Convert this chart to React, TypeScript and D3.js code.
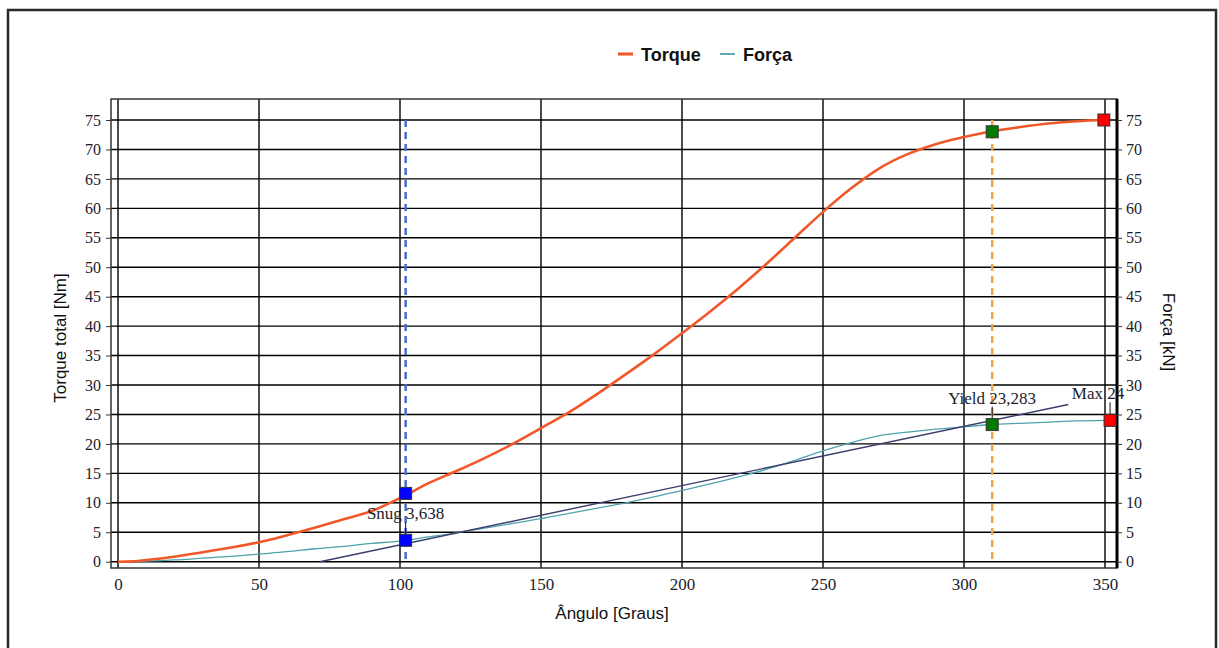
import React, { useRef, useEffect } from "react";
import * as d3 from "d3";

// Torque curve (angle in degrees, torque in Nm)
const torqueAngle = [0, 5, 10, 20, 30, 40, 50, 60, 70, 80, 90, 100, 110, 120, 130, 140, 150, 160, 170, 180, 190, 200, 210, 220, 230, 240, 250, 260, 270, 280, 290, 300, 310, 320, 330, 340, 350];
const torqueValues = [0, 0.05, 0.3, 0.85, 1.6, 2.4, 3.3, 4.5, 5.8, 7.2, 8.6, 10.8, 13.3, 15.4, 17.6, 20.0, 22.7, 25.4, 28.5, 31.8, 35.2, 38.8, 42.5, 46.4, 50.6, 55.0, 59.4, 63.4, 66.8, 69.2, 70.9, 72.1, 73.1, 73.8, 74.4, 74.8, 75.0];

// Força curve (angle in degrees, force in kN)
const forceAngle = [0, 10, 20, 30, 40, 50, 60, 70, 80, 90, 100, 110, 120, 130, 140, 150, 160, 170, 180, 190, 200, 210, 220, 230, 240, 250, 260, 270, 280, 290, 300, 310, 320, 330, 340, 350];
const forceValues = [0, 0.1, 0.3, 0.6, 0.9, 1.3, 1.7, 2.2, 2.6, 3.1, 3.5, 4.2, 4.9, 5.7, 6.5, 7.3, 8.2, 9.1, 10.0, 11.0, 12.1, 13.2, 14.4, 15.7, 17.2, 18.8, 20.2, 21.4, 22.0, 22.5, 22.9, 23.3, 23.5, 23.7, 23.9, 24.0];

// elastic (tangent) line
const elasticAngle = [71.6, 337];
const elasticForce = [0, 26.7];

// events: Snug / Yield / Max
const eventLabels = ["Snug 3,638", "Yield 23,283", "Max 24"];
const eventColors = ["#0000ff", "#007a00", "#ff0000"];
const eventTorqueAngle = [102, 310, 349.6];
const eventTorque = [11.6, 73.0, 75.0];
const eventForceAngle = [102, 310, 351.8];
const eventForce = [3.638, 23.283, 24.0];
const eventLineColors = ["#4a6cc8", "#f7a04a", null];
const eventLabelShift = [0, 0, -12];

const xTicks = [0, 50, 100, 150, 200, 250, 300, 350];
const yTicks = [0, 5, 10, 15, 20, 25, 30, 35, 40, 45, 50, 55, 60, 65, 70, 75];

const W = 1219;
const H = 648;

const TorqueChart = () => {
  const svgRef = useRef(null);

  useEffect(() => {
    document.body.style.margin = "0";
    const svg = d3.select(svgRef.current);
    svg.selectAll("*").remove();

    const plot = { left: 111, right: 1117, top: 99, bottom: 568 };

    const x = d3.scaleLinear().domain([0, 350]).range([118, 1105]);
    const y = d3.scaleLinear().domain([0, 75]).range([561.7, 120]);
    const y2 = d3.scaleLinear().domain([0, 75]).range([561.7, 120]);

    const serif = "'Liberation Serif', 'Times New Roman', serif";
    const sans = "'Liberation Sans', Arial, sans-serif";
    const textColor = "#1c1c2a";

    // outer frame
    svg
      .append("rect")
      .attr("x", 8)
      .attr("y", 10)
      .attr("width", 1208)
      .attr("height", 660)
      .attr("fill", "#fff")
      .attr("stroke", "#2a2a2a")
      .attr("stroke-width", 2.5);

    // grid
    const grid = svg.append("g").attr("stroke", "#000").attr("stroke-width", 1.4);
    grid
      .selectAll("line.h")
      .data(yTicks)
      .join("line")
      .attr("class", "h")
      .attr("x1", plot.left)
      .attr("x2", plot.right)
      .attr("y1", (d) => y(d))
      .attr("y2", (d) => y(d));
    grid
      .selectAll("line.v")
      .data(xTicks)
      .join("line")
      .attr("class", "v")
      .attr("x1", (d) => x(d))
      .attr("x2", (d) => x(d))
      .attr("y1", plot.top)
      .attr("y2", plot.bottom);

    // plot border
    svg
      .append("rect")
      .attr("x", plot.left)
      .attr("y", plot.top)
      .attr("width", plot.right - plot.left)
      .attr("height", plot.bottom - plot.top)
      .attr("fill", "none")
      .attr("stroke", "#333")
      .attr("stroke-width", 1.5);
    svg
      .append("line")
      .attr("x1", plot.right)
      .attr("x2", plot.right)
      .attr("y1", plot.top)
      .attr("y2", plot.bottom)
      .attr("stroke", "#000")
      .attr("stroke-width", 3);

    // left axis
    const yAxis = d3.axisLeft(y).tickValues(yTicks).tickSize(5).tickPadding(5).tickSizeOuter(0);
    svg
      .append("g")
      .attr("transform", `translate(${plot.left},0)`)
      .call(yAxis)
      .call((g) => g.select(".domain").remove())
      .call((g) => g.selectAll("line").attr("stroke", "#333"))
      .call((g) =>
        g.selectAll("text").attr("font-family", serif).attr("font-size", 16).attr("fill", textColor)
      );

    // right axis
    const yAxisRight = d3.axisRight(y2).tickValues(yTicks).tickSize(5).tickPadding(4).tickSizeOuter(0);
    svg
      .append("g")
      .attr("transform", `translate(${plot.right},0)`)
      .call(yAxisRight)
      .call((g) => g.select(".domain").remove())
      .call((g) => g.selectAll("line").attr("stroke", "#333"))
      .call((g) =>
        g.selectAll("text").attr("font-family", serif).attr("font-size", 16).attr("fill", textColor)
      );

    // bottom axis labels
    const xAxis = d3.axisBottom(x).tickValues(xTicks).tickSize(0).tickPadding(10);
    svg
      .append("g")
      .attr("transform", `translate(0,${plot.bottom})`)
      .call(xAxis)
      .call((g) => g.select(".domain").remove())
      .call((g) =>
        g.selectAll("text").attr("font-family", serif).attr("font-size", 17).attr("fill", textColor)
      );

    // axis titles
    svg
      .append("text")
      .attr("transform", `translate(66,338) rotate(-90)`)
      .attr("text-anchor", "middle")
      .attr("font-family", sans)
      .attr("font-size", 17)
      .attr("fill", "#111")
      .text("Torque total [Nm]");
    svg
      .append("text")
      .attr("transform", `translate(1163,332) rotate(90)`)
      .attr("text-anchor", "middle")
      .attr("font-family", sans)
      .attr("font-size", 17)
      .attr("fill", "#111")
      .text("Força [kN]");
    svg
      .append("text")
      .attr("x", 612)
      .attr("y", 619)
      .attr("text-anchor", "middle")
      .attr("font-family", sans)
      .attr("font-size", 17)
      .attr("fill", "#111")
      .text("Ângulo [Graus]");

    // vertical event lines
    eventLineColors.forEach((c, i) => {
      if (!c) return;
      svg
        .append("line")
        .attr("x1", x(eventTorqueAngle[i]))
        .attr("x2", x(eventTorqueAngle[i]))
        .attr("y1", y(75))
        .attr("y2", y(0))
        .attr("stroke", c)
        .attr("stroke-width", 2.5)
        .attr("stroke-dasharray", "7,5");
    });

    // curves
    const forceData = forceAngle.map((a, i) => ({ a, v: forceValues[i] }));
    const torqueData = torqueAngle.map((a, i) => ({ a, v: torqueValues[i] }));
    const elasticData = elasticAngle.map((a, i) => ({ a, v: elasticForce[i] }));

    const line = (scale) =>
      d3
        .line()
        .x((d) => x(d.a))
        .y((d) => scale(d.v))
        .curve(d3.curveMonotoneX);

    svg
      .append("path")
      .datum(forceData)
      .attr("fill", "none")
      .attr("stroke", "#4fa3ad")
      .attr("stroke-width", 1.3)
      .attr("d", line(y2));

    svg
      .append("path")
      .datum(elasticData)
      .attr("fill", "none")
      .attr("stroke", "#3b3f6e")
      .attr("stroke-width", 1.4)
      .attr("d", line(y2));

    svg
      .append("path")
      .datum(torqueData)
      .attr("fill", "none")
      .attr("stroke", "#f0582a")
      .attr("stroke-width", 2.6)
      .attr("d", line(y));

    // markers
    const ms = 12;
    eventLabels.forEach((label, i) => {
      const tx = x(eventTorqueAngle[i]);
      const ty = y(eventTorque[i]);
      const fx = x(eventForceAngle[i]);
      const fy = y2(eventForce[i]);

      // leader + label
      svg
        .append("line")
        .attr("x1", fx)
        .attr("x2", fx)
        .attr("y1", fy - 18)
        .attr("y2", fy - 4)
        .attr("stroke", "#111")
        .attr("stroke-width", 1);
      svg
        .append("text")
        .attr("x", fx + eventLabelShift[i])
        .attr("y", fy - 21)
        .attr("text-anchor", "middle")
        .attr("font-family", serif)
        .attr("font-size", 17)
        .attr("fill", textColor)
        .text(label);

      [
        [tx, ty],
        [fx, fy],
      ].forEach(([cx, cy]) => {
        svg
          .append("rect")
          .attr("x", cx - ms / 2)
          .attr("y", cy - ms / 2)
          .attr("width", ms)
          .attr("height", ms)
          .attr("fill", eventColors[i])
          .attr("stroke", "#333")
          .attr("stroke-width", 1);
      });
    });

    // legend
    const legend = svg.append("g").attr("font-family", sans).attr("font-weight", "bold").attr("font-size", 18);
    const legendItems = [
      { name: "Torque", color: "#f0582a", w: 2.6, x0: 618 },
      { name: "Força", color: "#4fa3ad", w: 1.3, x0: 720 },
    ];
    legendItems.forEach((d) => {
      legend
        .append("line")
        .attr("x1", d.x0)
        .attr("x2", d.x0 + 15)
        .attr("y1", 54)
        .attr("y2", 54)
        .attr("stroke", d.color)
        .attr("stroke-width", d.w + 0.5);
      legend
        .append("text")
        .attr("x", d.x0 + 23)
        .attr("y", 61)
        .attr("fill", "#111")
        .text(d.name);
    });
  }, []);

  return <svg ref={svgRef} width={W} height={H} style={{ display: "block" }}></svg>;
};

export default function App() {
  return <TorqueChart />;
}
